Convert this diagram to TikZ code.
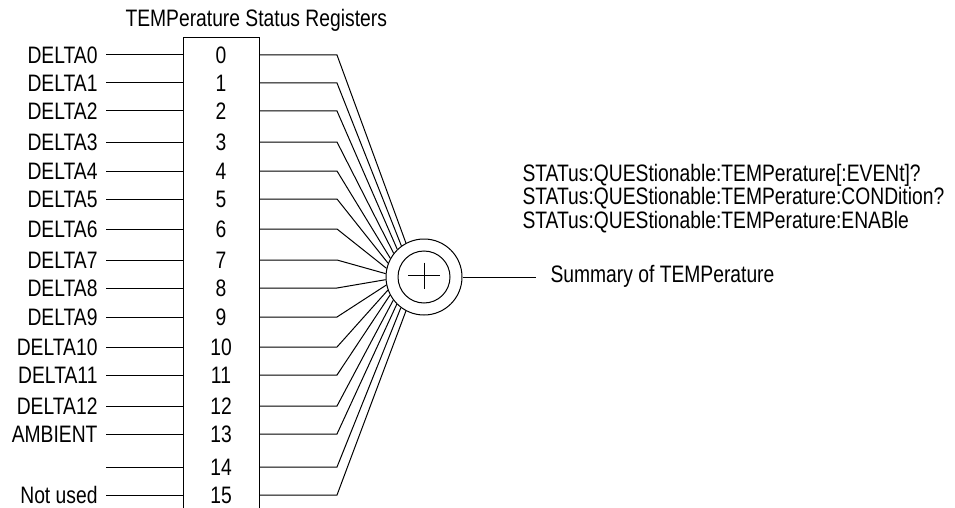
\documentclass[tikz,border=0pt]{standalone}
\usepackage{fontspec}
\setmainfont{Liberation Sans}[FakeStretch=0.81]
\usetikzlibrary{calc}
\begin{document}
\begin{tikzpicture}[x=1pt,y=-1pt,line width=1pt,
  lbl/.style={font=\fontsize{23.8}{27}\selectfont, inner sep=0pt},
  regbox/.style={draw, line width=1.2pt, minimum width=76pt, minimum height=500pt, inner sep=0pt, anchor=north west},
  ring/.style={draw, circle, inner sep=0pt}]
\useasboundingbox (0,0) rectangle (955,508);
\node[regbox] (reg) at (183,37) {};
\node[lbl, anchor=base west] (title) at (125,27) {TEMPerature Status Registers};
\node[ring, minimum size=76pt] (sum) at (424,277) {};
\node[ring, minimum size=52pt] (inner) at (sum.center) {};
\draw ($(inner.center)+(-16,-1.5)$) -- ($(inner.center)+(16,-1.5)$);
\draw ($(inner.center)+(0,-14.5)$) -- ($(inner.center)+(0,11.5)$);
\foreach \y/\t [count=\i from 0] in {55/DELTA0,83/DELTA1,111/DELTA2,142/DELTA3,171/DELTA4,199/DELTA5,229/DELTA6,260/DELTA7,288/DELTA8,317/DELTA9,347/DELTA10,375/DELTA11,406/DELTA12,434/AMBIENT,467/{},495/Not used}{
  \coordinate (ls\i) at (106,\y);
  \coordinate (le\i) at (183,\y);
  \coordinate (rs\i) at (259,\y);
  \coordinate (rb\i) at (337,\y);
  \node[lbl, anchor=base east] (l\i) at (98,\y+8.5) {\t};
  \node[lbl, anchor=base] (n\i) at (221,\y+8.5) {\i};
  \pgfmathsetmacro\a{118+\i*124/15}
  \draw (ls\i) -- (le\i);
  \draw (rs\i) -- (rb\i) -- (sum.\a);
}
\coordinate (out) at (536,277);
\draw (sum.east) -- (out);
\node[lbl, anchor=base west] (summ) at (550,282) {Summary of TEMPerature};
\node[lbl, anchor=base west] (q1) at (522,181) {STATus:QUEStionable:TEMPerature[:EVENt]?};
\node[lbl, anchor=base west] (q2) at (522,204.5) {STATus:QUEStionable:TEMPerature:CONDition?};
\node[lbl, anchor=base west] (q3) at (522,228) {STATus:QUEStionable:TEMPerature:ENABle};
\end{tikzpicture}
\end{document}
